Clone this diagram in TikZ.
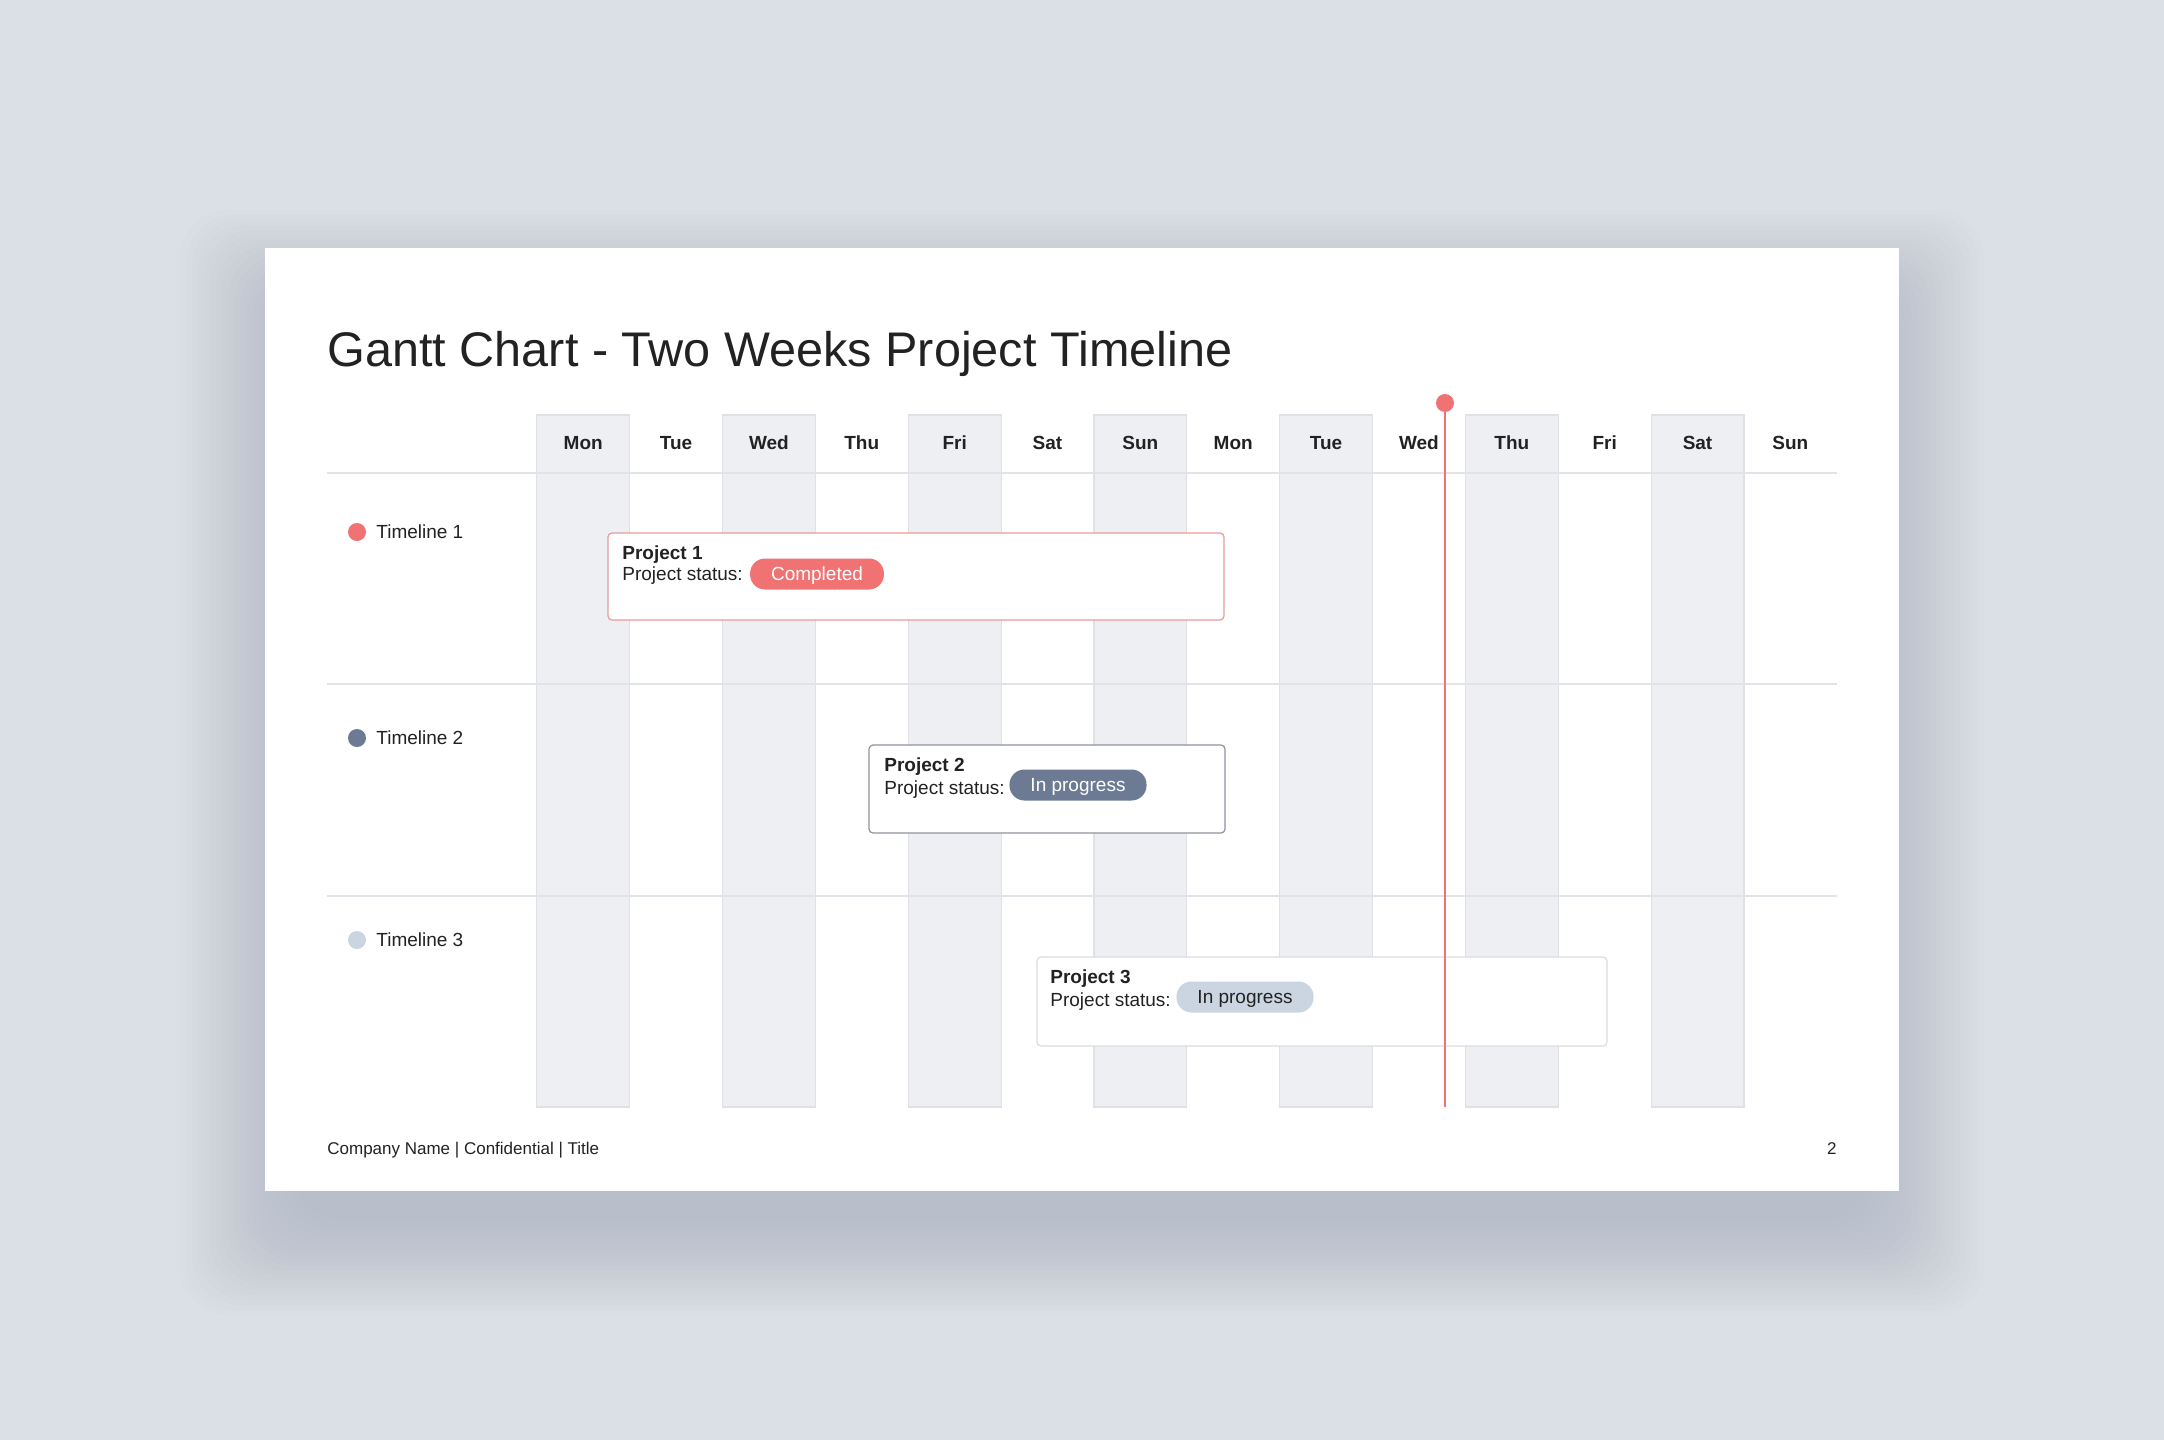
\documentclass[tikz,border=0pt]{standalone}
\usepackage{fontspec}
\setmainfont{Liberation Sans}
\usetikzlibrary{positioning}

\definecolor{pagebg}{HTML}{DBDFE6}
\definecolor{shadowc}{HTML}{7F8797}
\definecolor{colshade}{HTML}{EEEFF3}
\definecolor{colrule}{HTML}{DFE1E7}
\definecolor{gridline}{HTML}{E1E3E8}
\definecolor{nowred}{HTML}{F07272}
\definecolor{slate}{HTML}{6C7A93}
\definecolor{paleblue}{HTML}{CBD5E2}
\definecolor{inkc}{HTML}{222222}
\definecolor{edgeone}{HTML}{E79A9A}
\definecolor{edgetwo}{HTML}{8E939C}
\definecolor{edgethree}{HTML}{D9DCE2}

\begin{document}
\begin{tikzpicture}[x=0.5pt, y=-0.5pt,
    daylbl/.style={font=\fontsize{9.5}{11}\selectfont\bfseries, text=inkc},
    lbl/.style={font=\fontsize{9.5}{11}\selectfont, text=inkc, inner sep=0pt},
    projtitle/.style={lbl, font=\fontsize{9.5}{11}\selectfont\bfseries, anchor=base west},
    badge/.style={rounded corners=7.5pt, minimum height=15.5pt, inner xsep=10.5pt,
                  inner ysep=0pt, text height=6.8pt, text depth=0pt,
                  font=\fontsize{9.5}{11}\selectfont},
    dot/.style={circle, inner sep=0pt, minimum size=9pt},
    projbox/.style={fill=white, rounded corners=2pt, line width=0.6pt}]
%      \draw[help lines] (0,0) grid[step=100] (2164,1440);

      \fill[pagebg] (0,0) rectangle (2164,1440);
      \useasboundingbox (0,0) rectangle (2164,1440);

      % slide with its shadow
      \foreach \k in {1,...,20}
        \fill[shadowc, opacity=0.014, rounded corners=24pt]
          (300-\k*6, 310-\k*5) rectangle (1864+\k*6, 1215+\k*5);
      \fill[white] (265,248) rectangle (1899,1191);

      \node[anchor=base west, inner sep=0pt, text=inkc, font=\fontsize{24.3}{28}\selectfont]
        (title) at (327,366) {Gantt Chart - Two Weeks Project Timeline};

      % day columns
      \foreach \i in {0,2,...,12}
        \filldraw[fill=colshade, draw=colrule, line width=0.6pt]
          (536.8+\i*92.86, 415) rectangle ++(92.86, 692);
      \foreach \d [count=\i from 0] in {Mon,Tue,Wed,Thu,Fri,Sat,Sun,Mon,Tue,Wed,Thu,Fri,Sat,Sun}
        \node[daylbl] (day\i) at (583.2+\i*92.86, 443) {\d};

      \draw[gridline, line width=1pt] (327,473) -- (1837,473);
      \draw[gridline, line width=0.8pt] (327,684) -- (1837,684);
      \draw[gridline, line width=0.8pt] (327,896) -- (1837,896);

      % timelines
      \node[dot, fill=nowred]   (dot1) at (357,532) {};
      \node[lbl, anchor=west]   (tl1)  at (376,532) {Timeline 1};
      \node[dot, fill=slate]    (dot2) at (357,738) {};
      \node[lbl, anchor=west]   (tl2)  at (376,738) {Timeline 2};
      \node[dot, fill=paleblue] (dot3) at (357,940) {};
      \node[lbl, anchor=west]   (tl3)  at (376,940) {Timeline 3};

      % projects
      \draw[projbox, draw=edgeone] (608,533) rectangle (1224,620);
      \node[projtitle] (p1) at (622,559) {Project 1};
      \node[lbl, anchor=base west] (st1) at (622,580) {Project status:};
      \node[badge, fill=nowred, text=white] (b1) at (817,574) {Completed};

      \draw[projbox, draw=edgetwo] (869,745) rectangle (1225,833);
      \node[projtitle] (p2) at (884,771) {Project 2};
      \node[lbl, anchor=base west] (st2) at (884,794) {Project status:};
      \node[badge, fill=slate, text=white] (b2) at (1078,785) {In progress};

      \draw[projbox, draw=edgethree] (1037,957) rectangle (1607,1046);
      \node[projtitle] (p3) at (1050,983) {Project 3};
      \node[lbl, anchor=base west] (st3) at (1050,1006) {Project status:};
      \node[badge, fill=paleblue, text=inkc] (b3) at (1245,997) {In progress};

      % today marker
      \node[dot, fill=nowred] (now) at (1445,403) {};
      \coordinate (nowend) at (1445,1107);
      \draw[nowred, line width=1.2pt] (now) -- (nowend);

      % footer
      \node[lbl, anchor=base west, font=\fontsize{8.5}{10}\selectfont]
        (foot) at (327,1154) {Company Name | Confidential | Title};
      \node[lbl, anchor=base east, font=\fontsize{8.5}{10}\selectfont]
        (pnum) at (1837,1154) {2};
    \end{tikzpicture}
\end{document}
